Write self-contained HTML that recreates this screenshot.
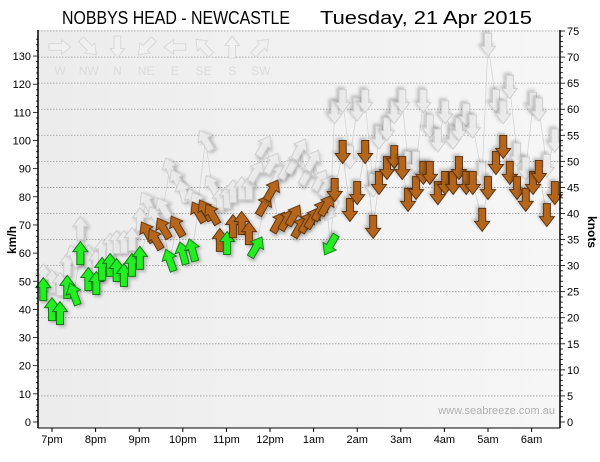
<!DOCTYPE html>
<html><head><meta charset="utf-8"><style>
html,body{margin:0;padding:0;background:#fff;}
svg{display:block;font-family:"Liberation Sans",sans-serif;}
</style></head><body>
<svg id="chart" width="600" height="462" viewBox="0 0 600 462">
<defs>
<linearGradient id="bg" x1="0" y1="0" x2="1" y2="0"><stop offset="0" stop-color="#ececec"/><stop offset="1" stop-color="#f6f6f6"/></linearGradient>
<filter id="sh" x="-50%" y="-50%" width="200%" height="200%"><feGaussianBlur in="SourceAlpha" stdDeviation="1.5"/><feOffset dx="2" dy="2"/><feComponentTransfer><feFuncA type="linear" slope="0.25"/></feComponentTransfer><feMerge><feMergeNode/><feMergeNode in="SourceGraphic"/></feMerge></filter>
</defs>
<rect x="38" y="30" width="522" height="398" fill="url(#bg)"/>
<text x="62" y="24" font-size="18" textLength="228" lengthAdjust="spacingAndGlyphs" fill="#000">NOBBYS HEAD - NEWCASTLE</text>
<text x="320" y="24" font-size="18" textLength="212" lengthAdjust="spacingAndGlyphs" fill="#000">Tuesday, 21 Apr 2015</text>
<text x="16" y="240" font-size="12" font-weight="bold" text-anchor="middle" transform="rotate(-90 16 240)">km/h</text>
<text x="588" y="232" font-size="12" font-weight="bold" text-anchor="middle" transform="rotate(90 588 232)">knots</text>
<text x="555" y="414" font-size="11" text-anchor="end" fill="#b0b0b0">www.seabreeze.com.au</text>
<g id="grid"></g><g id="legend"></g><g id="lines"></g><g id="gusts"></g><g id="avgs"></g><g id="axes"></g>
</svg>
<script>
const times=[-12,0,11,21,30,39,50,61,69,80,89,99,110,121,131,142,153,162,172,180,193,201,211,220,231,241,249,261,271,281,292,303,312,323,333,341,351,359,369,378,383,389,400,410,420,431,442,450,461,471,482,490,501,511,520,531,541,552,560,570,579,592,600,611,621,630,640,652,662,670,681,692];
const avgSpeed=[47.2,40.1,38.7,48,45.5,60,50.8,49.4,54.4,55.8,54,52.2,55.8,58.3,67.5,65,68.9,57.5,69.6,60,61.1,74.6,75.3,73.9,64.7,63.6,69.6,70.7,67.1,62.2,77.1,82.4,71,71.8,73.5,69.3,71,72.5,75.3,77.1,62.9,82.4,95.9,75.3,81.3,95.9,69.3,84.9,90.2,94.1,90.2,78.9,83.1,88.5,88.5,81.3,84.9,84.9,90.2,84.9,84.9,71.8,83.1,92,97.7,88.5,83.1,78.9,84.9,88.8,73.5,81.3];
const gustSpeed=[52,50,49,56,59,69,59,57,61,63,64,64,65,72,78,73,76,90,86,82,79,78,100,84,79,80,82,83,83,89,98,92,88,90,92,97,88,93,86,84,75,110,114,94,111,114,84,101,104,110,114,92,92,114,105,100,110,101,104,109,105,88,134,114,110,119,95,90,113,111,91,100];
const direction=[0,0,0,0,340,0,0,0,0,0,0,0,0,0,330,330,330,340,330,345,345,330,330,330,0,0,0,0,0,30,30,30,30,30,30,30,30,30,30,30,210,180,180,180,180,180,180,180,180,180,180,180,180,180,180,180,180,180,180,180,180,180,180,180,180,180,180,180,180,180,180,180];
const category=["g","g","g","g","g","g","g","g","g","g","g","g","g","g","b","b","b","g","b","g","g","b","b","b","b","g","b","b","b","g","b","b","b","b","b","b","b","b","b","b","g","b","b","b","b","b","b","b","b","b","b","b","b","b","b","b","b","b","b","b","b","b","b","b","b","b","b","b","b","b","b","b"];
const kmhTicks=[0,10,20,30,40,50,60,70,80,90,100,110,120,130];
const knotTicks=[0,5,10,15,20,25,30,35,40,45,50,55,60,65,70,75];
const hourLabels=["7pm","8pm","9pm","10pm","11pm","12pm","1am","2am","3am","4am","5am","6am"];
const compassLabels=["W","NW","N","NE","E","SE","S","SW"];
const compassDirs=[90,135,180,225,270,315,0,45];

const NS="http://www.w3.org/2000/svg";
const xS=t=>52+t*43.6/60;
const yK=v=>422-v*2.815;
const yKn=k=>422-k*5.213;
function mk(tag,attrs,parent){const e=document.createElementNS(NS,tag);for(const k in attrs)e.setAttribute(k,attrs[k]);parent.appendChild(e);return e;}
const AR="M0,-11.5 L7.5,-1.5 L3.5,-1.5 L3.5,11.5 L-3.5,11.5 L-3.5,-1.5 L-7.5,-1.5 Z";

const grid=document.getElementById('grid');
knotTicks.forEach(k=>{if(k===0)return;const l=mk('line',{x1:38,x2:560,y1:yKn(k),y2:yKn(k),stroke:'#999','stroke-width':0.8,'stroke-dasharray':'1.5,1.5'},grid);

});

const leg=document.getElementById('legend');
compassLabels.forEach((c,i)=>{const x=60+i*28.7;
const a=mk('path',{d:AR,transform:`translate(${x},47) rotate(${compassDirs[i]}) scale(0.95)`,fill:'#f0f0f0',stroke:'#d8d8d8'},leg);


const t=mk('text',{x:x,y:75,'font-size':12,'text-anchor':'middle',fill:'#dcdcdc'},leg);t.textContent=c;

});

const lines=document.getElementById('lines');
const gp=mk('polyline',{points:times.map((t,i)=>xS(t)+','+yK(gustSpeed[i])).join(' '),fill:'none',stroke:'#d4d4d4','stroke-width':0.8},lines);


const ap=mk('polyline',{points:times.map((t,i)=>xS(t)+','+yK(avgSpeed[i])).join(' '),fill:'none',stroke:'#cfcfcf','stroke-width':0.8},lines);



const gg=document.getElementById('gusts');
times.forEach((t,i)=>{const a=mk('path',{d:AR,transform:`translate(${xS(t)},${yK(gustSpeed[i])}) rotate(${direction[i]})`,fill:'#ececec',stroke:'#cfcfcf','stroke-width':1,'fill-opacity':0.9,filter:'url(#sh)'},gg);

});

const ag=document.getElementById('avgs');
times.forEach((t,i)=>{const g=category[i]==='g';const a=mk('path',{d:AR,transform:`translate(${xS(t)},${yK(avgSpeed[i])}) rotate(${direction[i]})`,fill:g?'#22ee22':'#b5661f',stroke:g?'#137a13':'#5e3410','stroke-width':1,filter:'url(#sh)'},ag);

});

const ax=document.getElementById('axes');
let e=mk('line',{x1:38,x2:38,y1:30,y2:428,stroke:'#000','stroke-width':1.5},ax);


e=mk('line',{x1:560,x2:560,y1:30,y2:428,stroke:'#000','stroke-width':1.5},ax);


e=mk('line',{x1:38,x2:560,y1:428,y2:428,stroke:'#000','stroke-width':1},ax);


for(let v=0;v<=136;v+=2){mk('line',{x1:38,x2:v%10===0?33:36,y1:yK(v),y2:yK(v),stroke:'#000','stroke-width':0.8},ax);}
for(let k=0;k<=75;k++){mk('line',{x1:560,x2:k%5===0?565:563,y1:yKn(k),y2:yKn(k),stroke:'#000','stroke-width':0.8},ax);}
kmhTicks.forEach(v=>{const t=mk('text',{x:31,y:yK(v)+4,'font-size':11,'text-anchor':'end'},ax);t.textContent=v;

});
knotTicks.forEach(k=>{const t=mk('text',{x:567,y:yKn(k)+4,'font-size':11,'text-anchor':'start'},ax);t.textContent=k;

});
hourLabels.forEach((h,i)=>{const x=xS(i*60);mk('line',{x1:x,x2:x,y1:428,y2:432,stroke:'#000'},ax);
const t=mk('text',{x:x,y:443,'font-size':11,'text-anchor':'middle'},ax);t.textContent=h;

});
</script>
</body></html>
